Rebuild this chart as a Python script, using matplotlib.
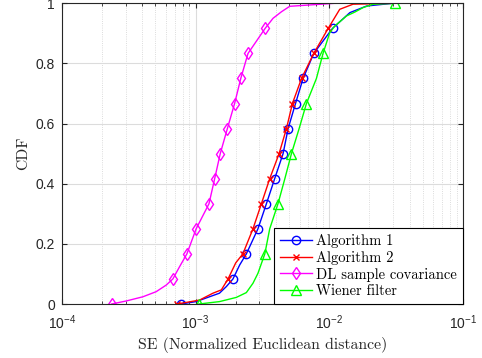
import matplotlib
matplotlib.use("Agg")
import matplotlib.pyplot as plt
from matplotlib.ticker import LogLocator, NullFormatter

plt.rcParams["mathtext.fontset"] = "custom"
plt.rcParams["mathtext.rm"] = "Liberation Sans"
plt.rcParams["mathtext.it"] = "Liberation Sans"
plt.rcParams["mathtext.sf"] = "Liberation Sans"
plt.rcParams["font.family"] = "Liberation Sans"

# Algorithm 1 (blue, circles)
alg1_x = [7.72e-4, 1.01e-3, 1.27e-3, 1.51e-3, 1.70e-3, 1.905e-3, 2.14e-3, 2.40e-3,
          2.93e-3, 3.39e-3, 3.91e-3, 4.52e-3, 4.93e-3, 5.60e-3, 6.38e-3, 7.67e-3,
          1.06e-2, 1.43e-2, 1.91e-2, 3.0e-2]
alg1_y = [0.0, 0.008, 0.024, 0.036, 0.058, 0.0833, 0.13, 0.1667,
          0.25, 0.3333, 0.4167, 0.5, 0.5833, 0.6667, 0.75, 0.8333,
          0.9167, 0.969, 0.991, 1.0]
alg1_marks = [0, 5, 7, 8, 9, 10, 11, 12, 13, 14, 15, 16]

# Algorithm 2 (red, crosses)
alg2_x = [7.24e-4, 1.07e-3, 1.35e-3, 1.56e-3, 1.75e-3, 2.0e-3, 2.26e-3,
          2.69e-3, 3.11e-3, 3.59e-3, 4.22e-3, 4.79e-3, 5.31e-3, 6.21e-3, 7.67e-3,
          9.84e-3, 1.20e-2, 1.51e-2, 3.0e-2]
alg2_y = [0.0, 0.013, 0.036, 0.047, 0.0833, 0.137, 0.1667,
          0.25, 0.3333, 0.4167, 0.5, 0.5833, 0.6667, 0.75, 0.8333,
          0.9167, 0.98, 0.997, 1.0]
alg2_marks = [0, 4, 6, 7, 8, 9, 10, 11, 12, 13, 14, 15]

# DL sample covariance (magenta, diamonds)
dl_x = [2.35e-4, 3.02e-4, 4.03e-4, 5.07e-4, 6.03e-4, 6.76e-4, 7.59e-4, 8.61e-4,
        1.01e-3, 1.26e-3, 1.39e-3, 1.53e-3, 1.73e-3, 1.96e-3, 2.18e-3, 2.47e-3,
        3.32e-3, 3.80e-3, 4.40e-3, 5.07e-3, 1.10e-2]
dl_y = [0.0, 0.01, 0.024, 0.041, 0.063, 0.0833, 0.124, 0.1667,
        0.25, 0.3333, 0.4167, 0.5, 0.5833, 0.6667, 0.75, 0.8333,
        0.9167, 0.95, 0.972, 0.99, 1.0]
dl_marks = [0, 5, 7, 8, 9, 10, 11, 12, 13, 14, 15, 16]

# Wiener filter (green, triangles)
wf_x = [1.06e-3, 1.51e-3, 2.02e-3, 2.40e-3, 2.69e-3, 2.93e-3, 3.30e-3, 3.59e-3,
        4.14e-3, 4.66e-3, 5.22e-3, 5.96e-3, 6.76e-3, 8.03e-3, 9.0e-3,
        1.01e-2, 1.10e-2, 1.35e-2, 1.56e-2, 1.80e-2, 2.14e-2, 3.11e-2]
wf_y = [0.0, 0.008, 0.022, 0.038, 0.069, 0.102, 0.1667, 0.25,
        0.3333, 0.4167, 0.5, 0.5833, 0.6667, 0.75, 0.8333,
        0.902, 0.924, 0.958, 0.971, 0.986, 0.997, 1.0]
wf_marks = [0, 6, 8, 10, 12, 14, 21]

serif = "cmr10"

fig = plt.figure(figsize=(4.82, 3.58), dpi=100)
ax = fig.add_axes([0.1286, 0.1508, 0.8314, 0.84])

ax.plot(alg1_x, alg1_y, color="blue", lw=1, marker="o", ms=6, mfc="none",
        markevery=alg1_marks, label="Algorithm 1")
ax.plot(alg2_x, alg2_y, color="red", lw=1, marker="x", ms=5,
        markevery=alg2_marks, label="Algorithm 2")
ax.plot(dl_x, dl_y, color="magenta", lw=1, marker="d", ms=6.5, mfc="none",
        markevery=dl_marks, label="DL sample covariance")
ax.plot(wf_x, wf_y, color="lime", lw=1, marker="^", ms=7, mfc="none",
        markevery=wf_marks, label="Wiener filter")

ax.set_xscale("log")
ax.set_xlim(1e-4, 1e-1)
ax.set_ylim(0, 1)
ax.set_yticks([0, 0.2, 0.4, 0.6, 0.8, 1])
ax.set_yticklabels(["0", "0.2", "0.4", "0.6", "0.8", "1"])
ax.xaxis.set_minor_locator(LogLocator(base=10, subs=range(2, 10)))
ax.xaxis.set_minor_formatter(NullFormatter())

ax.grid(True, which="major", color="#dcdcdc", lw=0.8)
ax.grid(True, which="minor", axis="x", color="#d0d0d0", lw=0.6, ls=":")
ax.set_axisbelow(True)

for s in ax.spines.values():
    s.set_color("#262626")
    s.set_linewidth(0.8)
ax.tick_params(which="both", direction="in", top=True, right=True,
               colors="#262626", labelsize=10)
ax.tick_params(axis="x", pad=7)
ax.tick_params(axis="y", pad=5)

ax.set_xlabel("SE (Normalized Euclidean distance)", family=serif, fontsize=11.3,
              color="#262626", labelpad=3)
ax.set_ylabel("CDF", family=serif, fontsize=11.3, color="#262626", labelpad=4)

leg = ax.legend(loc="lower right", borderaxespad=0, fancybox=False,
                edgecolor="black", framealpha=1, handlelength=2.2,
                labelspacing=0.2, handletextpad=0.3,
                prop={"family": serif, "size": 10.5})
leg.get_frame().set_linewidth(0.8)

fig.savefig("out.png", dpi=100)
